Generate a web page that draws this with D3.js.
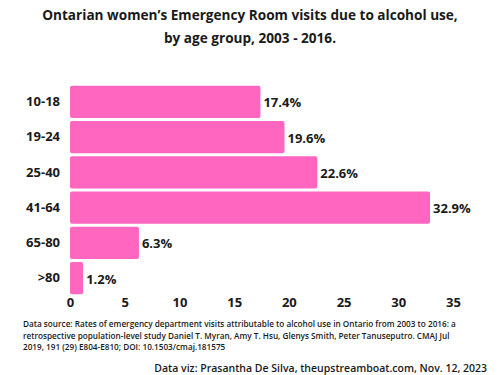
<!DOCTYPE html>
<html>
<head>
<meta charset="utf-8">
<script src="https://cdn.jsdelivr.net/npm/d3@7"></script>
<style>
  body { margin: 0; background: #fff; }
  text { font-family: "Open Sans", sans-serif; fill: #1a1a1a; }
</style>
</head>
<body>
<div id="chart"></div>
<script>
const ageGroups = ["10-18", "19-24", "25-40", "41-64", "65-80", ">80"];
const percents = [17.4, 19.6, 22.6, 32.9, 6.3, 1.2];
const xTicks = [0, 5, 10, 15, 20, 25, 30, 35];
const titleLines = ["Ontarian women\u2019s Emergency Room visits due to alcohol use,", "by age group, 2003 - 2016."];
const sourceLines = [
  "Data source: Rates of emergency department visits attributable to alcohol use in Ontario from 2003 to 2016: a",
  "retrospective population-level study Daniel T. Myran, Amy T. Hsu, Glenys Smith, Peter Tanuseputro. CMAJ Jul",
  "2019, 191 (29) E804-E810; DOI: 10.1503/cmaj.181575"
];
const credit = "Data viz: Prasantha De Silva, theupstreamboat.com, Nov. 12, 2023";

let width = 500,
    height = 375,
    margin = ({ top: 85, right: 47, bottom: 80, left: 70 });

const data = ageGroups.map((g, i) => ({ group: g, value: percents[i] }));

const svg = d3.select("#chart")
  .append("svg")
  .attr("width", width)
  .attr("height", height);

// title
svg.append("g")
  .selectAll("text")
  .data(titleLines)
  .join("text")
  .attr("x", width / 2)
  .attr("y", (d, i) => 20 + i * 23)
  .attr("text-anchor", "middle")
  .attr("font-size", "13.6px")
  .attr("font-weight", "bold")
  .text(d => d);

let x = d3.scaleLinear()
  .domain([0, 35])
  .range([margin.left, width - margin.right]);

let y = d3.scaleBand()
  .domain(ageGroups)
  .range([margin.top, height - margin.bottom])
  .paddingInner(0.08)
  .paddingOuter(0.02);

svg.append("g")
  .selectAll("rect")
  .data(data)
  .join("rect")
  .attr("x", x(0))
  .attr("y", d => y(d.group))
  .attr("width", d => x(d.value) - x(0))
  .attr("height", y.bandwidth())
  .attr("rx", 2)
  .attr("fill", "#ff66c0");

// value labels
svg.append("g")
  .selectAll("text")
  .data(data)
  .join("text")
  .attr("x", d => x(d.value) + 3)
  .attr("y", d => y(d.group) + y.bandwidth() / 2 + 2)
  .attr("dominant-baseline", "middle")
  .attr("font-size", "13px")
  .attr("font-weight", "bold")
  .text(d => d.value.toFixed(1) + "%");

// category axis
svg.append("g")
  .attr("transform", `translate(${margin.left - 10},0)`)
  .call(d3.axisLeft(y).tickSize(0).tickPadding(0))
  .call(g => g.select(".domain").remove())
  .call(g => g.selectAll("text")
    .attr("font-size", "13px")
    .attr("font-weight", "bold")
    .attr("font-family", "Open Sans, sans-serif")
    .attr("fill", "#1a1a1a"));

// x axis, no line
svg.append("g")
  .attr("transform", `translate(0,${height - margin.bottom - 1})`)
  .call(d3.axisBottom(x).tickValues(xTicks).tickSize(0).tickPadding(4))
  .call(g => g.select(".domain").remove())
  .call(g => g.selectAll("text")
    .attr("font-size", "13px")
    .attr("font-weight", "bold")
    .attr("font-family", "Open Sans, sans-serif")
    .attr("fill", "#1a1a1a"));

// source note
svg.append("g")
  .selectAll("text")
  .data(sourceLines)
  .join("text")
  .attr("x", 23)
  .attr("y", (d, i) => 327 + i * 11.5)
  .attr("font-size", "8.2px")
  .attr("font-weight", 600)
  .text(d => d);

svg.append("text")
  .attr("x", 487)
  .attr("y", 372)
  .attr("text-anchor", "end")
  .attr("font-size", "10.5px")
  .attr("font-weight", 600)
  .text(credit);
</script>
</body>
</html>
